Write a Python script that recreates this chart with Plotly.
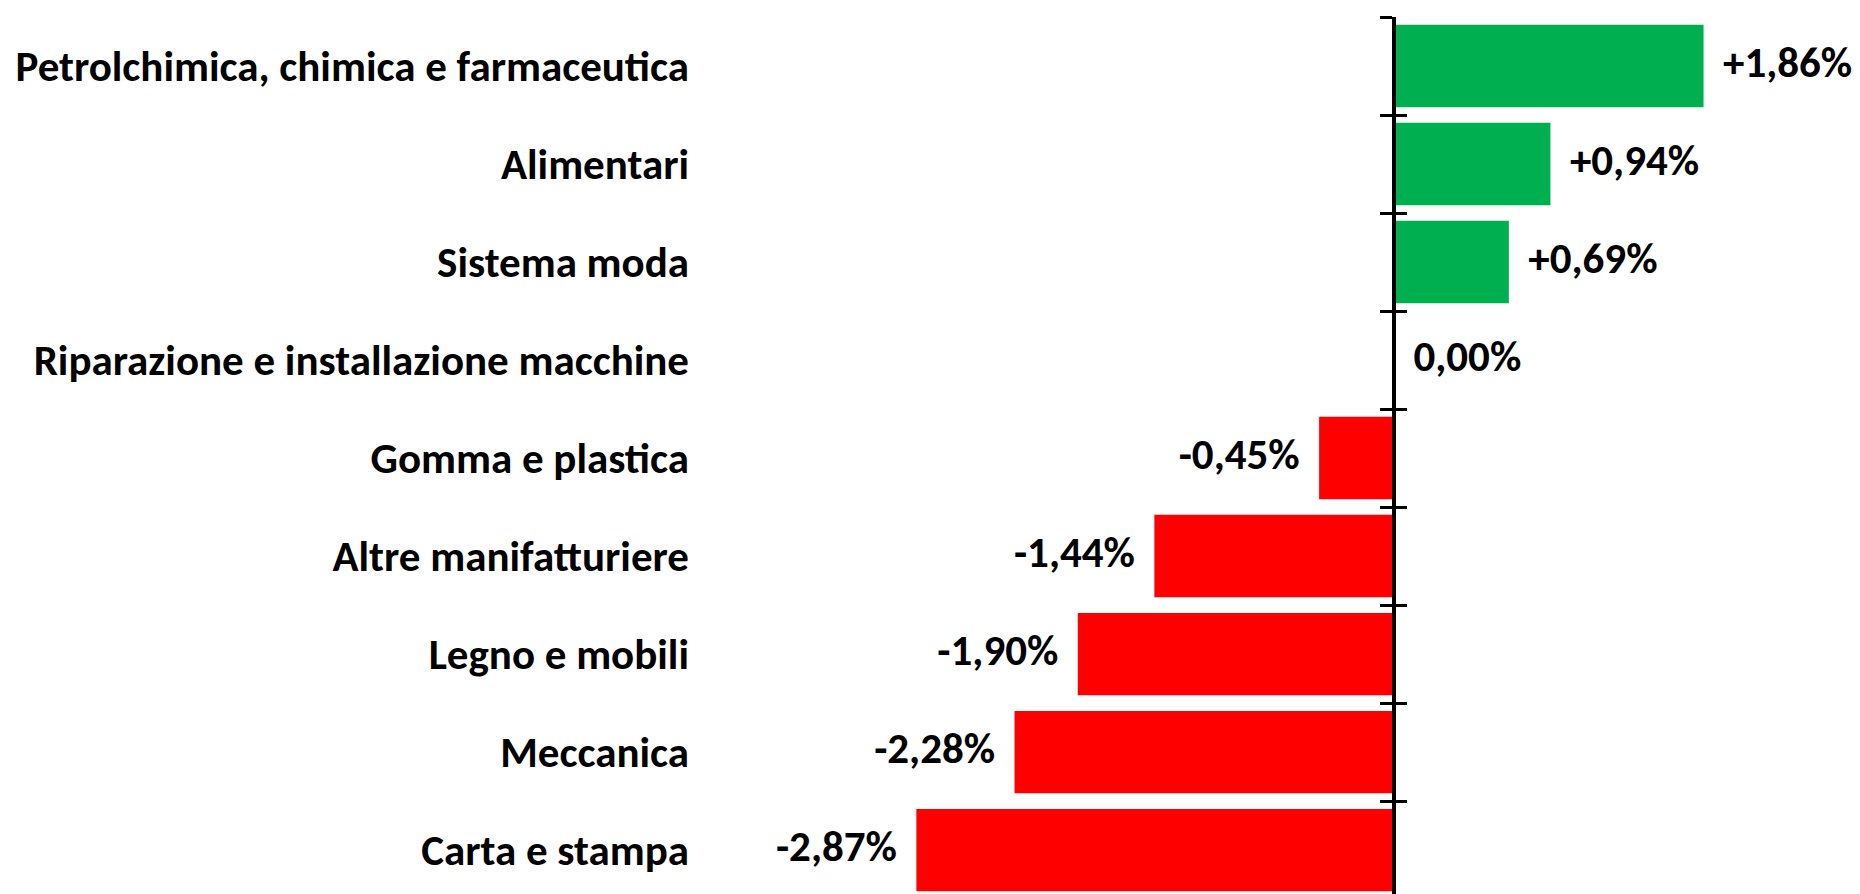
import plotly.graph_objects as go

categories = [
    "Petrolchimica, chimica e farmaceutica",
    "Alimentari",
    "Sistema moda",
    "Riparazione e installazione macchine",
    "Gomma e plastica",
    "Altre manifatturiere",
    "Legno e mobili",
    "Meccanica",
    "Carta e stampa",
]
values = [1.86, 0.94, 0.69, 0.00, -0.45, -1.44, -1.90, -2.28, -2.87]
value_labels = ["+1,86%", "+0,94%", "+0,69%", "0,00%", "-0,45%", "-1,44%", "-1,90%", "-2,28%", "-2,87%"]

GREEN = "#00B050"
RED = "#FF0000"
FONT = "Carlito, 'Liberation Sans Narrow', 'Open Sans', sans-serif"
FS = 43

colors = [GREEN if v >= 0 else RED for v in values]
text_pos = ["middle right" if v >= 0 else "middle left" for v in values]
pad = "\u00a0\u00a0"
texts = [(pad + t) if v >= 0 else (t + pad) for t, v in zip(value_labels, values)]

x_range = [-4.17, 2.8]
zero_pos = (0 - x_range[0]) / (x_range[1] - x_range[0])
y_range = [8.53, -0.5]

fig = go.Figure()
fig.add_trace(go.Bar(
    x=values, y=categories, orientation="h",
    marker=dict(color=colors, line=dict(width=0)),
    hoverinfo="skip", xaxis="x", yaxis="y",
))
fig.add_trace(go.Scatter(
    x=values, y=categories, mode="text", text=texts, textposition=text_pos,
    textfont=dict(family=FONT, size=FS, color="black", weight="bold"),
    hoverinfo="skip", xaxis="x", yaxis="y2", showlegend=False, cliponaxis=False,
))
fig.add_trace(go.Scatter(
    x=values, y=categories, mode="markers", marker=dict(opacity=0),
    hoverinfo="skip", xaxis="x", yaxis="y3", showlegend=False,
))

common = dict(type="category", categoryorder="array", categoryarray=categories,
              range=y_range, showgrid=False, zeroline=False)

fig.update_layout(
    width=1860, height=894,
    margin=dict(l=692, r=8, t=9, b=0),
    paper_bgcolor="white", plot_bgcolor="white",
    showlegend=False, bargap=0.16,
    font=dict(family=FONT, color="black"),
    xaxis=dict(range=x_range, visible=False, showgrid=False, zeroline=False),
    yaxis=dict(**common, showline=False, ticks="", ticklabelstandoff=10,
               tickfont=dict(family=FONT, size=FS, color="black", weight="bold")),
    yaxis2=dict(**common, overlaying="y", anchor="free", position=zero_pos, side="left",
                showline=True, linecolor="black", linewidth=4,
                ticks="outside", tickson="boundaries", ticklen=12, tickwidth=3,
                tickcolor="black", showticklabels=False),
    yaxis3=dict(**common, overlaying="y", anchor="free", position=zero_pos, side="left",
                showline=False, ticks="inside", tickson="boundaries", ticklen=12,
                tickwidth=3, tickcolor="black", showticklabels=False),
)

fig.write_html("out.html")
